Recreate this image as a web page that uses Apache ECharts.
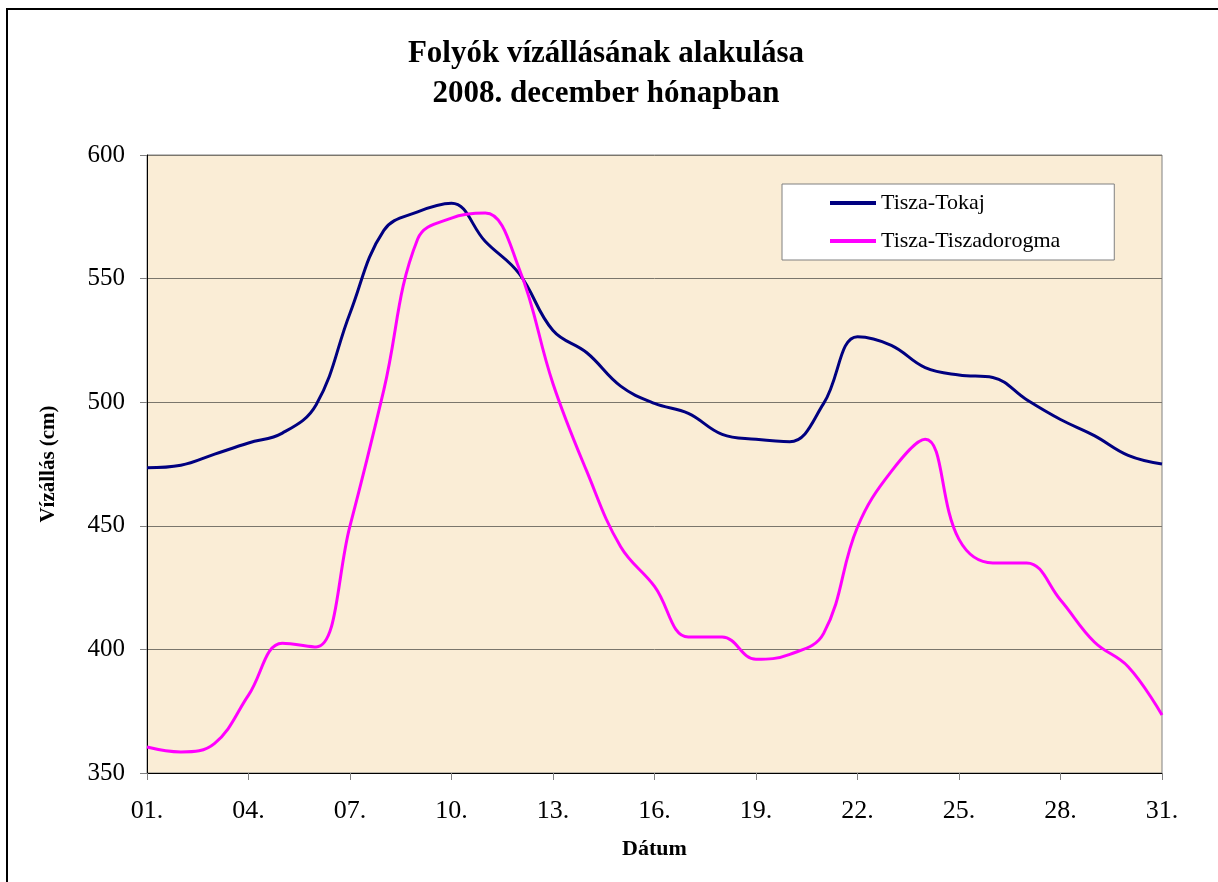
<!DOCTYPE html>
<html>
<head>
<meta charset="utf-8">
<script src="https://cdn.jsdelivr.net/npm/echarts@6/dist/echarts.min.js"></script>
<style>
html,body{margin:0;padding:0;background:#fff;}
#chart{width:1218px;height:882px;}
</style>
</head>
<body>
<div id="chart"></div>
<script>
var days = ['01.','02.','03.','04.','05.','06.','07.','08.','09.','10.','11.','12.','13.','14.','15.','16.','17.','18.','19.','20.','21.','22.','23.','24.','25.','26.','27.','28.','29.','30.','31.'];
var tokaj = [473.5, 474.5, 479, 483.5, 487.5, 499, 536, 569.5, 577, 580.5, 565, 552, 529, 520, 506.5, 499.5, 495.5, 487, 485, 484, 499.5, 526.5, 523, 514, 511, 510, 501, 493, 486.5, 478.5, 475];
var dorogma = [360.5, 358.5, 362, 381.5, 402.5, 401, 450, 505, 566, 574.5, 576.5, 554, 507.5, 472, 441.5, 425.5, 405, 405, 396, 398, 406.5, 449.5, 472, 485, 444.5, 435, 435, 420, 403, 393, 373.5];
var seriesNames = ['Tisza-Tokaj', 'Tisza-Tiszadorogma'];
var titleText = 'Folyók vízállásának alakulása\n2008. december hónapban';
var yName = 'Vízállás (cm)';
var xName = 'Dátum';

var font = '"Liberation Serif", "Times New Roman", serif';
var chart = echarts.init(document.getElementById('chart'), null, {renderer: 'canvas'});
chart.setOption({
  animation: false,
  backgroundColor: '#ffffff',
  title: {
    text: titleText,
    left: 601,
    top: 29,
    textAlign: 'center',
    textStyle: {fontFamily: font, fontSize: 31, fontWeight: 'bold', color: '#000', lineHeight: 40}
  },
  legend: {
    orient: 'vertical',
    left: 782,
    top: 184,
    backgroundColor: '#ffffff',
    borderColor: '#808080',
    borderWidth: 1,
    padding: [8, 54, 8, 48],
    icon: 'rect',
    itemWidth: 46,
    itemHeight: 4,
    itemGap: 16,
    textStyle: {fontFamily: font, fontSize: 22, color: '#000', padding: [0,0,0,0]},
    data: seriesNames
  },
  grid: {
    left: 147, top: 155, right: 56, bottom: 109,
    show: true,
    backgroundColor: '#FAEDD6',
    borderColor: '#808080',
    borderWidth: 1
  },
  xAxis: {
    type: 'category',
    data: days,
    boundaryGap: false,
    name: xName,
    nameLocation: 'middle',
    nameGap: 65,
    nameTextStyle: {fontFamily: font, fontSize: 22, fontWeight: 'bold', color: '#000'},
    axisLine: {lineStyle: {color: '#000', width: 1}},
    axisTick: {show: true, interval: 2, length: 7, lineStyle: {color: '#808080'}},
    axisLabel: {interval: 2, fontFamily: font, fontSize: 26, color: '#000', margin: 25},
    splitLine: {show: false}
  },
  yAxis: {
    type: 'value',
    min: 350, max: 600, interval: 50,
    name: yName,
    nameLocation: 'middle',
    nameGap: 88,
    nameRotate: 90,
    nameTextStyle: {fontFamily: font, fontSize: 21, fontWeight: 'bold', color: '#000'},
    axisLine: {show: true, lineStyle: {color: '#000', width: 1}},
    axisTick: {show: true, length: 7, lineStyle: {color: '#808080'}},
    axisLabel: {fontFamily: font, fontSize: 25, color: '#000', margin: 22},
    splitLine: {show: true, lineStyle: {color: '#7a766c', width: 1}}
  },
  series: [
    {name: seriesNames[0], type: 'line', data: tokaj, smooth: 0.4, symbol: 'none',
     lineStyle: {color: '#000080', width: 3}, itemStyle: {color: '#000080'}},
    {name: seriesNames[1], type: 'line', data: dorogma, smooth: 0.4, symbol: 'none',
     lineStyle: {color: '#FF00FF', width: 3}, itemStyle: {color: '#FF00FF'}}
  ],
  graphic: [
    {type: 'rect', shape: {x: 7, y: 9, width: 1400, height: 1000}, silent: true,
     style: {fill: 'none', stroke: '#000', lineWidth: 2}}
  ]
});
</script>
</body>
</html>
